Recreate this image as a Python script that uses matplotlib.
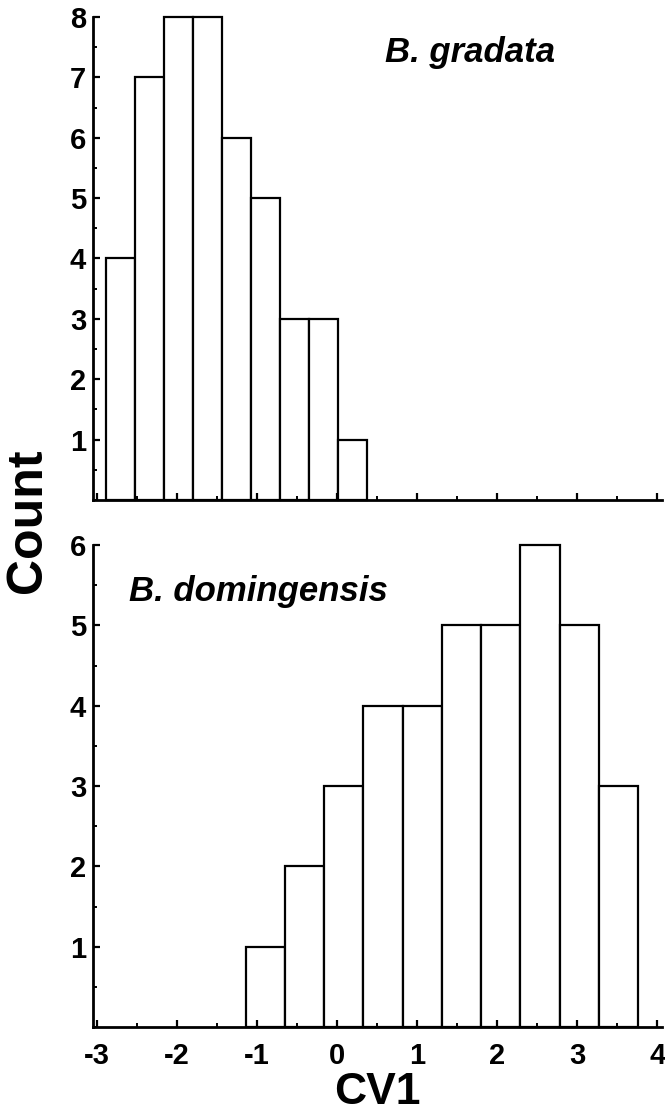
import numpy as np
import matplotlib
matplotlib.use("Agg")
import matplotlib.pyplot as plt
from matplotlib.ticker import MultipleLocator, FixedLocator

plt.rcParams['font.family'] = ['Liberation Sans', 'DejaVu Sans']
plt.rcParams['font.weight'] = 'bold'
plt.rcParams['axes.unicode_minus'] = False

# histogram data
grad_start = -2.89
grad_width = 0.3625
grad_counts = [4, 7, 8, 8, 6, 5, 3, 3, 1]

dom_start = -1.14
dom_width = 0.49
dom_counts = [1, 2, 3, 4, 4, 5, 5, 6, 5, 3]

x_ticks = [-3, -2, -1, 0, 1, 2, 3, 4]


def draw_hist(ax, start, width, counts, ymax, label, lx, ly):
    edges = start + width * np.arange(len(counts))
    ax.bar(edges, counts, width=width, align='edge', bottom=0,
           facecolor='white', edgecolor='black', linewidth=1.6, clip_on=False)
    ax.set_xlim(-3.05, 4.06)
    ax.set_ylim(0, ymax)
    for s in ['top', 'right']:
        ax.spines[s].set_visible(False)
    for s in ['left', 'bottom']:
        ax.spines[s].set_linewidth(2.0)
    ax.xaxis.set_major_locator(FixedLocator(x_ticks))
    ax.xaxis.set_minor_locator(MultipleLocator(0.5))
    ax.yaxis.set_major_locator(FixedLocator(list(range(1, ymax + 1))))
    ax.yaxis.set_minor_locator(MultipleLocator(0.5))
    ax.tick_params(which='major', direction='in', length=5, width=1.6,
                   labelsize=21, pad=5)
    ax.tick_params(axis='x', which='major', pad=11)
    ax.tick_params(which='minor', direction='in', length=3, width=1.4)
    ax.text(lx, ly, label, fontsize=25, fontweight='bold', style='italic',
            ha='left', va='baseline')


fig = plt.figure(figsize=(6.65, 11.15), dpi=100)
ax1 = fig.add_axes([0.1398, 0.5516, 0.8556, 0.4332])
ax2 = fig.add_axes([0.1398, 0.0789, 0.8556, 0.4323])

draw_hist(ax1, grad_start, grad_width, grad_counts, 8, 'B. gradata', 0.6, 7.25)
draw_hist(ax2, dom_start, dom_width, dom_counts, 6, 'B. domingensis', -2.6, 5.3)

ax1.tick_params(axis='x', labelbottom=False)
ax2.set_xlabel('CV1', fontsize=32, fontweight='bold', labelpad=1)

fig.text(0.042, 0.533, 'Count', rotation=90, fontsize=36, fontweight='bold',
         ha='center', va='center')

fig.savefig('out.png', dpi=100)
